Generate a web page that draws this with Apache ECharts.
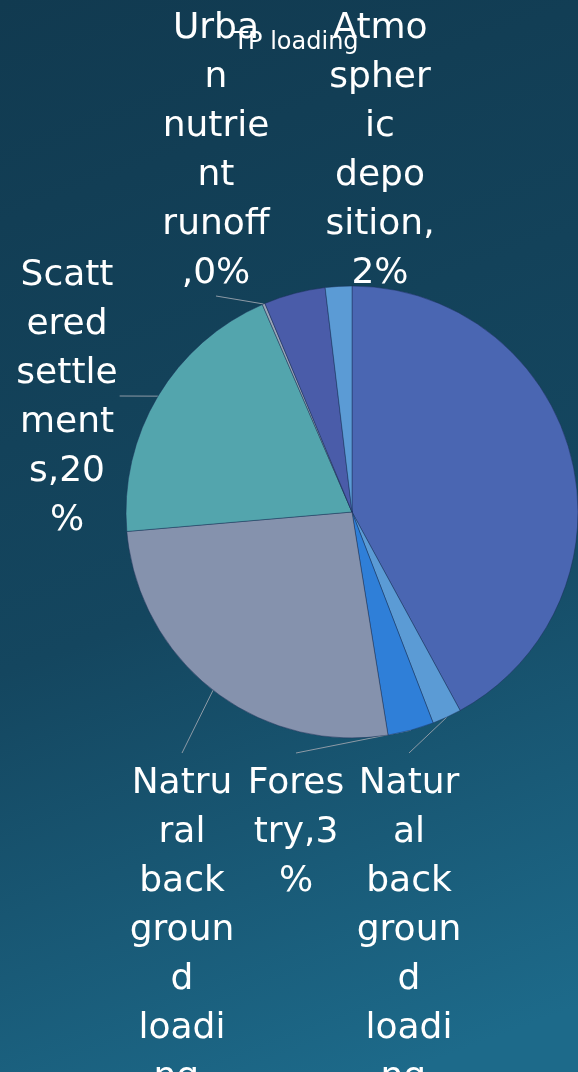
<!DOCTYPE html>
<html>
<head>
<meta charset="utf-8">
<script src="https://cdn.jsdelivr.net/npm/echarts@6/dist/echarts.min.js"></script>
<style>
html,body{margin:0;padding:0;width:578px;height:1072px;overflow:hidden;background:#123c53}
#c{width:578px;height:1072px}
</style>
</head>
<body>
<div id="c"></div>
<script>
// ---- data ----
const titleText = "TP loading";
const categories = ["Agricultural runoff", "Natural background loading", "Forestry", "Natrural background loading", "Scattered settlements", "Urban nutrient runoff", "Livestock", "Atmospheric deposition"];
const values = [42.1, 2.1, 3.3, 26.2, 19.9, 0.2, 4.4, 1.9];
// label text as wrapped in the reference (null = no visible label)
const labelTexts = [null, "Natur\nal\nback\ngroun\nd\nloadi\nng,\n2%", "Fores\ntry,3\n%", "Natru\nral\nback\ngroun\nd\nloadi\nng,\n26%", "Scatt\nered\nsettle\nment\ns,20\n%", "Urba\nn\nnutrie\nnt\nrunoff\n,0%", null, "Atmo\nspher\nic\ndepo\nsition,\n2%"];

// ---- styling / layout ----
const colors = ['#4a66b2', '#5b9bd5', '#2f7fd8', '#8592ad', '#53a5ad', '#9aa6b8', '#4a5ca9', '#5b9bd5'];
const labelBoxes = { // [centerX, top, side the leader line attaches to]
  1: [409, 759, 'top'],
  2: [296, 759, 'top'],
  3: [182, 759, 'top'],
  4: [67, 251, 'right'],
  5: [216, 4, 'bottom'],
  7: [380, 4, 'bottom']
};

const chart = echarts.init(document.getElementById('c'), null, {renderer: 'canvas'});
chart.setOption({
  backgroundColor: {
    type: 'linear', x: 0, y: 0, x2: 0.7, y2: 1,
    colorStops: [{offset: 0, color: '#113a50'}, {offset: 0.55, color: '#14465f'}, {offset: 1, color: '#1d6a8a'}]
  },
  title: {
    text: titleText, left: 291, top: 26, textAlign: 'center',
    textStyle: {color: '#ffffff', fontFamily: 'DejaVu Sans', fontSize: 24, fontWeight: 'normal'}
  },
  series: [{
    type: 'pie',
    center: [352, 512],
    radius: 226,
    startAngle: 90,
    clockwise: true,
    avoidLabelOverlap: false,
    animation: false,
    itemStyle: {borderColor: 'rgba(25,45,85,0.45)', borderWidth: 1},
    label: {
      position: 'outside', color: '#ffffff', fontFamily: 'DejaVu Sans',
      fontSize: 36, lineHeight: 49, align: 'center'
    },
    labelLine: {show: true, lineStyle: {color: '#8d9aa6', width: 1}},
    labelLayout: function (p) {
      const b = labelBoxes[p.dataIndex];
      if (!b) return {};
      const w = p.labelRect.width, h = p.labelRect.height;
      const res = {x: b[0], y: b[1], align: 'center', verticalAlign: 'top'};
      let end;
      if (b[2] === 'top') end = [b[0], b[1] - 6];
      else if (b[2] === 'bottom') end = [b[0], b[1] + h - 2];
      else end = [b[0] + w / 2 + 2, b[1] + h / 2 - 2];
      if (p.labelLinePoints && p.labelLinePoints.length) {
        const a = p.labelLinePoints[0];
        res.labelLinePoints = [a, end, end];
      }
      return res;
    },
    data: categories.map((name, i) => ({
      name: name,
      value: values[i],
      itemStyle: {color: colors[i]},
      label: labelTexts[i] ? {show: true, formatter: labelTexts[i]} : {show: false},
      labelLine: {show: !!labelTexts[i] && i !== 7}
    }))
  }]
});
</script>
</body>
</html>
